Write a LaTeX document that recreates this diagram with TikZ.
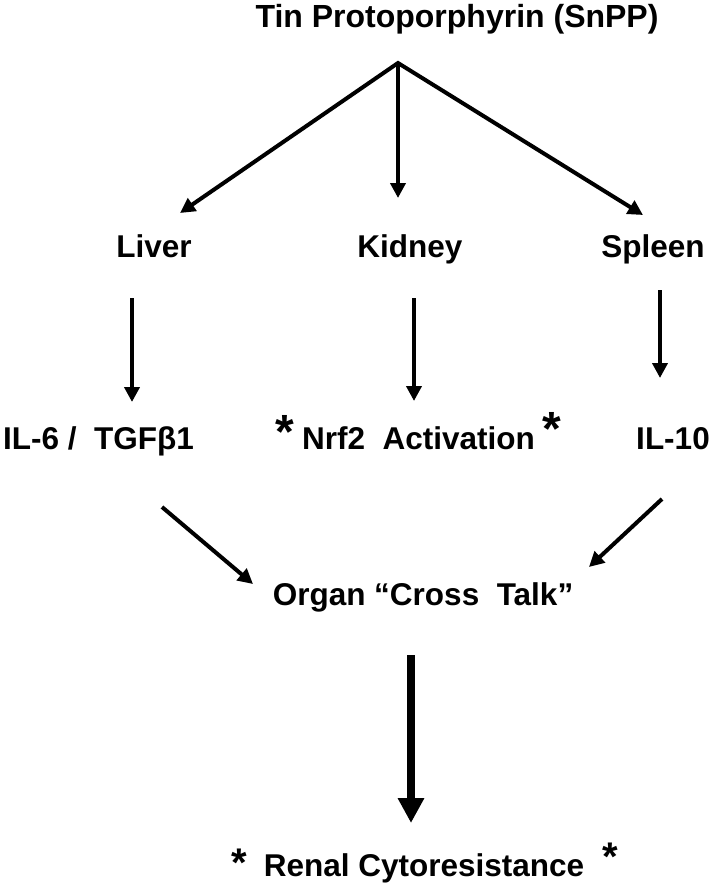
\documentclass[tikz,border=0pt]{standalone}
\usepackage{fontspec}
\setmainfont{Liberation Sans}
\usetikzlibrary{arrows.meta}
\newcommand\myfs[1]{\fontsize{#1}{#1}\selectfont}
\begin{document}
\begin{tikzpicture}[x=1pt,y=-1pt,
  lbl/.style={inner sep=0pt, anchor=base, font=\bfseries\myfs{31.5}},
  bigstar/.style={inner sep=0pt, anchor=base, font=\bfseries\myfs{48}},
  smallstar/.style={inner sep=0pt, anchor=base, font=\bfseries\myfs{40}},
  arr/.style={line width=4pt, -{Triangle[length=15pt,width=15pt]}},
  bigarr/.style={line width=8pt, -{Triangle[length=25pt,width=25pt]}}]
\useasboundingbox (0,0) rectangle (709,887);

% texts
\node[lbl, font=\bfseries\myfs{32}] (title) at (457,27) {Tin Protoporphyrin (SnPP)};
\node[lbl] (liver) at (154,257) {Liver};
\node[lbl] (kidney) at (410,257) {Kidney};
\node[lbl] (spleen) at (653,257) {Spleen};
\node[lbl, anchor=base west] (il6) at (3,449) {IL-6 /~~TGFβ1};
\node[lbl, anchor=base west] (nrf) at (302,449) {Nrf2~~Activation};
\node[bigstar] (s1) at (285,448) {*};
\node[bigstar] (s2) at (552,445) {*};
\node[lbl] (il10) at (673,449) {IL-10};
\node[lbl] (organ) at (423,605) {Organ “Cross~~Talk”};
\node[lbl] (renal) at (424,876) {Renal Cytoresistance};
\node[smallstar] (s3) at (239,876) {*};
\node[smallstar] (s4) at (610,870) {*};

% connector end points
\coordinate (apex) at (398,63);
\coordinate (tl) at (180,213);
\coordinate (tr) at (643,215);
\coordinate (tk) at (398,198);
\coordinate (l1) at (132,298);
\coordinate (l2) at (132,402);
\coordinate (k1) at (414,298);
\coordinate (k2) at (414,401);
\coordinate (p1) at (660,290);
\coordinate (p2) at (660,378);
\coordinate (d1) at (162,507);
\coordinate (d2) at (253,584);
\coordinate (e1) at (662,499);
\coordinate (e2) at (589,567);
\coordinate (c1) at (411,655);
\coordinate (c2) at (411,823);

% connectors
\draw[line width=4pt, {Triangle[length=15pt,width=15pt]}-{Triangle[length=15pt,width=15pt]}] (tl) -- (apex) -- (tr);
\draw[arr] (apex) -- (tk);
\draw[arr] (l1) -- (l2);
\draw[arr] (k1) -- (k2);
\draw[arr] (p1) -- (p2);
\draw[arr] (d1) -- (d2);
\draw[arr] (e1) -- (e2);
\draw[bigarr] (c1) -- (c2);
\end{tikzpicture}
\end{document}
